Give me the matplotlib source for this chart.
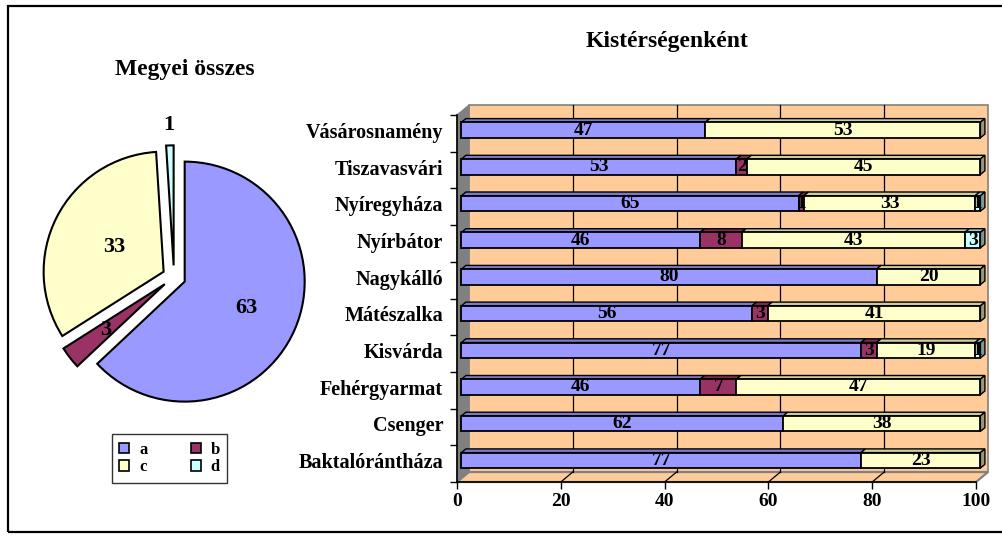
import numpy as np
import matplotlib
matplotlib.use("Agg")
import matplotlib.pyplot as plt
from matplotlib.patches import Polygon, Rectangle, Patch
from matplotlib.transforms import ScaledTranslation

plt.rcParams['font.family'] = ['Liberation Serif', 'DejaVu Serif']
plt.rcParams['font.weight'] = 'bold'

# ---- data -------------------------------------------------------------
categories = ["Baktalórántháza", "Csenger", "Fehérgyarmat", "Kisvárda", "Mátészalka",
              "Nagykálló", "Nyírbátor", "Nyíregyháza", "Tiszavasvári", "Vásárosnamény"]
a_vals = [77, 62, 46, 77, 56, 80, 46, 65, 53, 47]
b_vals = [0, 0, 7, 3, 3, 0, 8, 1, 2, 0]
c_vals = [23, 38, 47, 19, 41, 20, 43, 33, 45, 53]
d_vals = [0, 0, 0, 1, 0, 0, 3, 1, 0, 0]
series_names = ["a", "b", "c", "d"]
county_total = [63, 3, 33, 1]
x_ticks = [0, 20, 40, 60, 80, 100]

front_colors = ["#9999FF", "#993366", "#FFFFCC", "#CCFFFF"]
top_colors = ["#7A7ACC", "#7A2952", "#CCCCA3", "#A3CCCC"]
side_colors = ["#5C5C99", "#5C1F3D", "#99997A", "#7A9999"]
wall_color = "#FFCC99"

W, H = 1002, 538
fig = plt.figure(figsize=(W / 100, H / 100), dpi=100)


def fx(px):
    return px / W


def fy(py):
    return 1 - py / H


# ---- outer frame -------------------------------------------------------
fig.patches.append(Rectangle((fx(8), fy(531.5)), (1010 - 8) / W, (531.5 - 5.5) / H,
                             transform=fig.transFigure, fill=False,
                             edgecolor="black", linewidth=1.6))

# ---- 3D-style stacked bar chart -----------------------------------------
L, R, T, B = 457, 976, 115, 482
ax = fig.add_axes([fx(L), fy(B), (R - L) / W, (B - T) / H])
ax.set_xlim(0, 100)
ax.set_ylim(-0.5, len(categories) - 0.5)
ax.patch.set_visible(False)


def dx(px):
    return px * 100 / (R - L)


def dy(px):
    return px * len(categories) / (B - T)


DX, DY = dx(12), dy(10)        # depth of the box
BX, BY = dx(4.4), dy(3.3)      # bar front plane
TX, TY = dx(4.5), dy(3.7)      # bar depth
h = dy(15.5)                   # bar thickness
ymin, ymax = -0.5, len(categories) - 0.5

# back wall, side wall, floor
ax.add_patch(Rectangle((DX, ymin + DY), 100, ymax - ymin, facecolor=wall_color,
                       edgecolor="#808080", linewidth=1.2, clip_on=False, zorder=0))
ax.add_patch(Polygon([(0, ymin), (0, ymax), (DX, ymax + DY), (DX, ymin + DY)],
                     closed=True, facecolor="#808080", edgecolor="#808080",
                     linewidth=0.8, clip_on=False, zorder=0.5))
ax.add_patch(Polygon([(0, ymin), (100, ymin), (100 + DX, ymin + DY), (DX, ymin + DY)],
                     closed=True, facecolor=wall_color, edgecolor="#808080",
                     linewidth=1.6, clip_on=False, zorder=0.5))
for v in x_ticks[1:-1]:
    ax.plot([v + DX, v + DX], [ymin + DY, ymax + DY], color="black", lw=0.9,
            clip_on=False, zorder=0.6)
    ax.plot([v, v + DX], [ymin, ymin + DY], color="black", lw=0.9,
            clip_on=False, zorder=0.6)

series = [a_vals, b_vals, c_vals, d_vals]
ypos = np.arange(len(categories))
left = np.zeros(len(categories))
last_idx = np.zeros(len(categories), dtype=int)
for k, vals in enumerate(series):
    vals = np.array(vals, dtype=float)
    nz = vals > 0
    ax.barh(ypos[nz] + BY, vals[nz], left=left[nz] + BX, height=h,
            color=front_colors[k], edgecolor="black", linewidth=1.3,
            clip_on=False, zorder=2)
    for i in np.where(nz)[0]:
        x0, x1 = left[i] + BX, left[i] + vals[i] + BX
        yt = ypos[i] + h / 2 + BY
        ax.add_patch(Polygon([(x0, yt), (x1, yt), (x1 + TX, yt + TY), (x0 + TX, yt + TY)],
                             closed=True, facecolor=top_colors[k], edgecolor="black",
                             linewidth=1.0, clip_on=False, zorder=1.9))
        ax.text((x0 + x1) / 2, ypos[i] + BY, f"{int(vals[i])}", ha="center",
                va="center", fontsize=14, fontweight="bold", zorder=5,
                clip_on=False)
        last_idx[i] = k
    left = left + vals
for i in range(len(categories)):
    xr = left[i] + BX
    yb, yt = ypos[i] - h / 2 + BY, ypos[i] + h / 2 + BY
    ax.add_patch(Polygon([(xr, yb), (xr, yt), (xr + TX, yt + TY), (xr + TX, yb + TY)],
                         closed=True, facecolor=side_colors[last_idx[i]],
                         edgecolor="black", linewidth=1.0, clip_on=False, zorder=1.9))

for s in ["top", "right"]:
    ax.spines[s].set_visible(False)
for s in ["left", "bottom"]:
    ax.spines[s].set_linewidth(1.2)
    ax.spines[s].set_zorder(1)
ax.set_xticks(x_ticks)
ax.set_xticklabels([str(v) for v in x_ticks], fontsize=14, fontweight="bold")
ax.tick_params(axis="x", length=5, width=1, pad=3)
ax.set_yticks(np.arange(ymin, ymax + 0.01, 1.0))
ax.set_yticklabels([])
ax.set_yticks(ypos, minor=True)
ax.set_yticklabels(categories, minor=True, fontsize=14.5, fontweight="bold")
ax.tick_params(axis="y", which="major", length=5, width=1)
ax.tick_params(axis="y", which="minor", length=0, pad=10)
for lbl in ax.get_yticklabels(minor=True):
    lbl.set_transform(lbl.get_transform() + ScaledTranslation(0, 3 / 100, fig.dpi_scale_trans))

fig.text(fx(667), fy(41), "Kistérségenként", ha="center", va="center",
         fontsize=17, fontweight="bold")

# ---- pie chart -----------------------------------------------------------
cx, cy, rad = 174, 277, 124
span = 150
axp = fig.add_axes([fx(cx - span), fy(cy + span), 2 * span / W, 2 * span / H])
axp.set_xlim(-span / rad, span / rad)
axp.set_ylim(-span / rad, span / rad)
axp.set_aspect("equal")
axp.axis("off")
wedges, _ = axp.pie(county_total, colors=front_colors, startangle=90,
                    counterclock=False, explode=[0.097] * 4, radius=1.0,
                    wedgeprops=dict(edgecolor="black", linewidth=1.5))
label_dist = [0.557, 0.62, 0.46, 1.17]
for w, val, dist in zip(wedges, county_total, label_dist):
    ang = np.deg2rad((w.theta1 + w.theta2) / 2)
    x0, y0 = w.center
    axp.text(x0 + dist * np.cos(ang), y0 + dist * np.sin(ang), str(val),
             ha="center", va="center", fontsize=16, fontweight="bold")

fig.text(fx(185), fy(69), "Megyei összes", ha="center", va="center",
         fontsize=17, fontweight="bold")

handles = [Patch(facecolor=front_colors[k], edgecolor="black", linewidth=1.2)
           for k in range(4)]
order = [0, 2, 1, 3]
leg = fig.legend([handles[k] for k in order], [series_names[k] for k in order],
                 ncol=2, loc="center", bbox_to_anchor=(fx(169.5), fy(458.5)),
                 prop=dict(family="Liberation Serif", weight="bold", size=12),
                 frameon=True, fancybox=False, edgecolor="black",
                 handlelength=0.6, handleheight=0.6, handletextpad=0.6,
                 columnspacing=2.6, labelspacing=0.1, borderpad=0.45)
leg.get_frame().set_linewidth(1.0)

fig.savefig("out.png", dpi=100)
